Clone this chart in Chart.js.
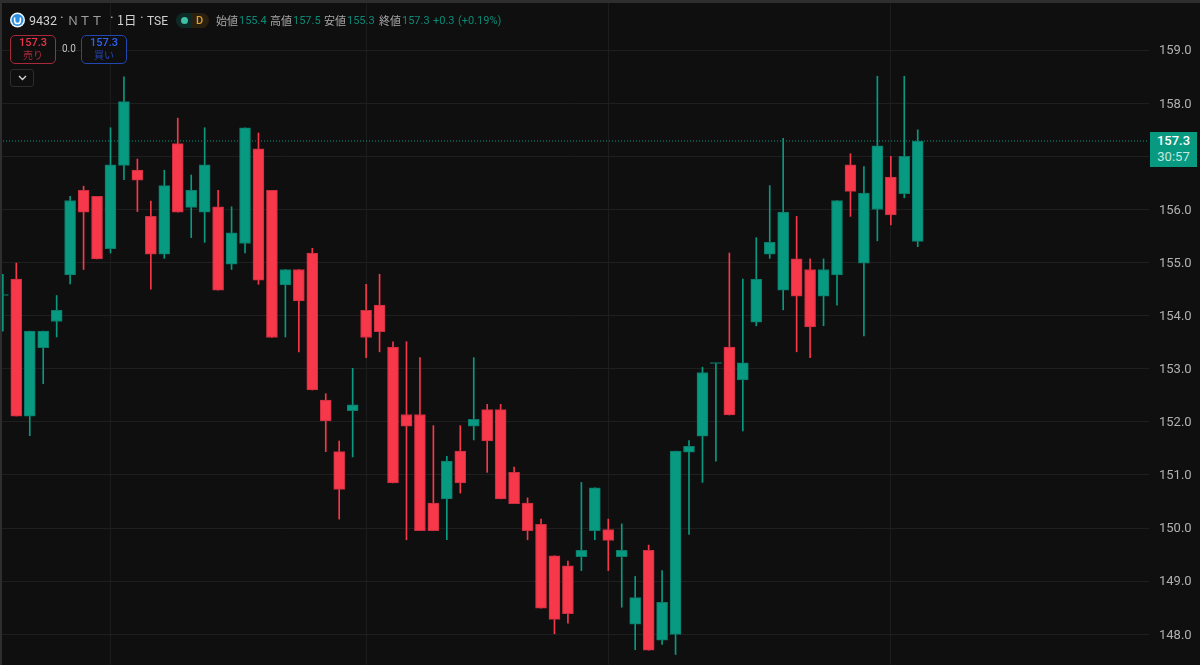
<!DOCTYPE html>
<html lang="ja">
<head>
<meta charset="utf-8">
<title>9432 NTT</title>
<script src="https://cdn.jsdelivr.net/npm/chart.js@4/dist/chart.umd.min.js"></script>
<style>
    html, body { margin: 0; padding: 0; background: #0f0f0f; overflow: hidden; }
    #wrap { position: relative; width: 1200px; height: 665px; overflow: hidden; }
    #wrap canvas { position: absolute; left: 0; top: 0; }
    .strip { position: absolute; background: #2e2e2e; z-index: 3; }
    .t { position: absolute; z-index: 4; white-space: nowrap; line-height: 16px; font-family: Roboto, "Noto Sans CJK JP", sans-serif; font-size: 11px; }
    .jp { font-family: "Noto Sans CJK JP", sans-serif; color: #a8a8a8; }
    .val { color: #0b8a76; }
    .box { position: absolute; z-index: 4; box-sizing: border-box; border-radius: 5px; background: #0f0f0f; }
</style>
</head>
<body>
<div id="wrap">
    <canvas id="myChart" width="1200" height="665"></canvas>
    <div class="strip" style="left:0;top:0;width:1200px;height:3px"></div>
    <div class="strip" style="left:0;top:0;width:2px;height:665px"></div>

    <!-- header row -->
    <svg style="position:absolute;left:10px;top:12px;z-index:4" width="15" height="16" viewBox="0 0 15 16">
        <circle cx="7.5" cy="8" r="7.5" fill="#f2f6fa"/>
        <circle cx="7.5" cy="8" r="6" fill="#2b8fe3"/>
        <path d="M4.6 5.5v3.2a2.9 2.9 0 0 0 5.8 0V5.5" fill="none" stroke="#fff" stroke-width="1.5"/>
    </svg>
    <span class="t" style="left:29px;top:13px;font-size:12.5px;color:#d1d1d1">9432</span>
    <span class="t" style="left:60px;top:10px;font-size:14px;color:#b8b8b8">·</span>
    <span class="t jp" style="left:67px;top:12px;font-size:12px;color:#a0a0a0">ＮＴＴ</span>
    <span class="t" style="left:110px;top:10px;font-size:14px;color:#b8b8b8">·</span>
    <span class="t jp" style="left:117px;top:12px;font-size:12.5px;color:#d1d1d1">1日</span>
    <span class="t" style="left:140px;top:10px;font-size:14px;color:#b8b8b8">·</span>
    <span class="t" style="left:147px;top:13px;font-size:12px;color:#d1d1d1">TSE</span>

    <div style="position:absolute;z-index:4;left:176px;top:13px;width:33px;height:15px;border-radius:8px;overflow:hidden;background:linear-gradient(90deg,#0f2a26 0 50%,#2a2010 50% 100%)"></div>
    <div style="position:absolute;z-index:5;left:181px;top:17px;width:7px;height:7px;border-radius:50%;background:#3fbfa5"></div>
    <span class="t" style="left:196px;top:13px;z-index:5;color:#e0a030;font-weight:500">D</span>

    <span class="t jp" style="left:216px;top:12px">始値</span><span class="t val" style="left:239px;top:13px">155.4</span>
    <span class="t jp" style="left:270px;top:12px">高値</span><span class="t val" style="left:293px;top:13px">157.5</span>
    <span class="t jp" style="left:324px;top:12px">安値</span><span class="t val" style="left:347px;top:13px">155.3</span>
    <span class="t jp" style="left:379px;top:12px">終値</span><span class="t val" style="left:402px;top:13px">157.3</span>
    <span class="t val" style="left:433px;top:13px">+0.3</span>
    <span class="t val" style="left:458px;top:13px">(+0.19%)</span>

    <!-- sell / buy buttons -->
    <div class="box" style="left:10px;top:35px;width:46px;height:29px;border:1px solid #a82a3a"></div>
    <span class="t" style="left:10px;width:46px;text-align:center;top:35px;z-index:5;color:#e8334a;font-weight:500">157.3</span>
    <span class="t jp" style="left:10px;width:46px;text-align:center;top:47px;font-size:10px;color:#a82a3a;z-index:5">売り</span>
    <span class="t" style="left:62px;top:41px;font-size:10px;color:#c0c0c0">0.0</span>
    <div class="box" style="left:81px;top:35px;width:46px;height:29px;border:1px solid #2347b0"></div>
    <span class="t" style="left:81px;width:46px;text-align:center;top:35px;z-index:5;color:#2e62f0;font-weight:500">157.3</span>
    <span class="t jp" style="left:81px;width:46px;text-align:center;top:47px;font-size:10px;color:#2347b0;z-index:5">買い</span>

    <div class="box" style="left:10px;top:69px;width:24px;height:18px;border:1px solid #2c2c2c;border-radius:3px"></div>
    <svg style="position:absolute;left:18px;top:75px;z-index:5" width="9" height="6" viewBox="0 0 9 6">
        <path d="M1 1l3.5 3.5L8 1" fill="none" stroke="#d8d8d8" stroke-width="1.3"/>
    </svg>

    <!-- last price tag -->
    <div style="position:absolute;z-index:4;left:1150px;top:132px;width:47px;height:35px;background:#089981"></div>
    <span class="t" style="left:1150px;width:47px;text-align:center;top:133px;z-index:5;font-size:13px;color:#fff;font-weight:500">157.3</span>
    <span class="t" style="left:1150px;width:47px;text-align:center;top:149px;z-index:5;font-size:13px;color:#c4e8e0">30:57</span>
</div>

<script>
// prices, one entry per daily candle
const opens = [154.38, 154.69, 152.11, 153.40, 153.89, 154.77, 156.36, 156.25, 155.26, 156.83,
    156.74, 155.87, 155.16, 157.24, 156.04, 155.95, 156.05, 154.97, 155.36, 157.14,
    156.36, 154.58, 154.87, 155.18, 152.41, 151.44, 152.21, 154.10, 154.20, 153.41,
    152.14, 152.14, 150.47, 150.55, 151.45, 151.92, 152.23, 152.23, 151.05, 150.47,
    150.07, 149.48, 149.29, 149.46, 149.95, 149.97, 149.46, 148.19, 149.58, 147.89,
    148.00, 151.43, 151.73, 153.10, 153.41, 152.79, 153.88, 155.16, 154.48, 155.07,
    154.87, 154.37, 154.77, 156.84, 154.99, 156.00, 156.61, 156.30, 155.40];
const highs = [154.78, 154.99, 153.71, 153.71, 154.38, 156.25, 156.44, 156.25, 157.54, 158.50,
    156.95, 156.16, 156.74, 157.72, 156.65, 157.54, 156.36, 156.05, 157.54, 157.44,
    156.36, 154.87, 154.87, 155.27, 152.53, 151.64, 153.01, 154.59, 154.78, 153.51,
    153.51, 153.21, 151.93, 151.35, 151.93, 153.21, 152.33, 152.33, 151.15, 150.57,
    150.17, 149.48, 149.38, 150.86, 150.76, 150.17, 150.08, 149.09, 149.68, 149.20,
    151.45, 151.65, 153.03, 153.10, 155.18, 154.69, 155.47, 156.45, 157.34, 155.87,
    155.07, 155.07, 156.17, 157.05, 156.81, 158.51, 157.00, 158.51, 157.50];
const lows = [153.71, 152.11, 151.74, 152.72, 153.60, 154.60, 154.87, 155.07, 155.18, 156.56,
    155.96, 154.50, 155.08, 155.95, 155.47, 155.38, 154.48, 154.87, 155.18, 154.59,
    153.59, 153.60, 153.32, 152.60, 151.44, 150.17, 151.34, 153.21, 153.32, 150.85,
    149.78, 149.95, 149.95, 149.78, 150.66, 151.66, 151.05, 150.55, 150.46, 149.78,
    148.49, 148.01, 148.21, 149.20, 149.78, 149.20, 148.51, 147.71, 147.70, 147.81,
    147.62, 149.88, 150.86, 151.26, 152.13, 151.83, 153.81, 155.08, 154.11, 153.32,
    153.21, 153.81, 154.20, 155.87, 153.62, 155.41, 155.71, 156.22, 155.30];
const closes = [154.38, 152.11, 153.71, 153.71, 154.10, 156.17, 155.95, 155.07, 156.84, 158.03,
    156.55, 155.16, 156.45, 155.95, 156.36, 156.84, 154.48, 155.56, 157.54, 154.67,
    153.59, 154.87, 154.28, 152.60, 152.02, 150.73, 152.32, 153.59, 153.70, 150.85,
    151.92, 149.95, 149.95, 151.26, 150.85, 152.05, 151.64, 150.55, 150.46, 149.95,
    148.49, 148.28, 148.39, 149.58, 150.76, 149.77, 149.58, 148.69, 147.70, 148.60,
    151.45, 151.54, 152.93, 153.10, 152.13, 153.11, 154.69, 155.38, 155.95, 154.37,
    153.79, 154.87, 156.17, 156.34, 156.31, 157.20, 155.90, 157.00, 157.29];

const priceTicks = [148, 149, 150, 151, 152, 153, 154, 155, 156, 157, 158, 159];
const dateGridCandles = [8, 27, 45, 66]; // month starts, only the grid line is shown

const upColor = '#089981';
const downColor = '#F7374A';
const upEdge = '#0b7a68';
const downEdge = '#c92f40';

// axis ranges so the canvas lines up with the screenshot
const xRange = [-0.2118, 85.19];
const yRange = [147.422, 159.945];

const isUp = closes.map((c, i) => c >= opens[i]);
const candleIdx = closes.map((c, i) => i);

const wickData = candleIdx.map(i => ({ x: i, y: [lows[i], highs[i]] }));
const bodyData = candleIdx.map(i => ({ x: i, y: [opens[i], closes[i]] }));
const lastPrice = closes[closes.length - 1];

const ctx = document.getElementById('myChart').getContext('2d');
const myChart = new Chart(ctx, {
    type: 'bar',
    data: {
        datasets: [
            {
                type: 'bar',
                label: 'body',
                data: bodyData,
                order: 1,
                grouped: false,
                barThickness: 11,
                minBarLength: 1,
                borderSkipped: false,
                borderWidth: 1,
                backgroundColor: isUp.map(u => u ? upColor : downColor),
                borderColor: isUp.map(u => u ? upEdge : downEdge)
            },
            {
                type: 'bar',
                label: 'wick',
                data: wickData,
                order: 2,
                grouped: false,
                barThickness: 1,
                borderWidth: 0,
                backgroundColor: isUp.map(u => u ? upColor : downColor)
            },
            {
                // dotted line at the last price
                type: 'line',
                label: 'last',
                data: [{ x: xRange[0], y: lastPrice }, { x: xRange[1], y: lastPrice }],
                order: 3,
                borderColor: upColor,
                borderWidth: 1,
                borderDash: [1, 2],
                pointRadius: 0
            }
        ]
    },
    options: {
        responsive: false,
        animation: false,
        devicePixelRatio: 1,
        layout: { padding: 0 },
        plugins: { legend: { display: false }, tooltip: { enabled: false } },
        scales: {
            x: {
                type: 'linear',
                offset: false,
                min: xRange[0],
                max: xRange[1],
                afterBuildTicks: scale => { scale.ticks = dateGridCandles.map(v => ({ value: v })); },
                afterFit: scale => { scale.height = 0; scale.paddingLeft = 0; scale.paddingRight = 0; },
                ticks: { display: false },
                border: { display: false },
                grid: { color: '#1c1c1c', drawTicks: false, offset: false }
            },
            y: {
                position: 'right',
                min: yRange[0],
                max: yRange[1],
                afterBuildTicks: scale => { scale.ticks = priceTicks.map(v => ({ value: v })); },
                afterFit: scale => { scale.width = 51; scale.paddingTop = 0; scale.paddingBottom = 0; },
                border: { display: false },
                grid: { color: '#1f1f1f', drawTicks: false },
                ticks: {
                    padding: 10,
                    labelOffset: 1,
                    color: '#b0b0b0',
                    font: { family: 'Roboto', size: 13 },
                    callback: v => v.toFixed(1)
                }
            }
        }
    }
});
</script>
</body>
</html>
